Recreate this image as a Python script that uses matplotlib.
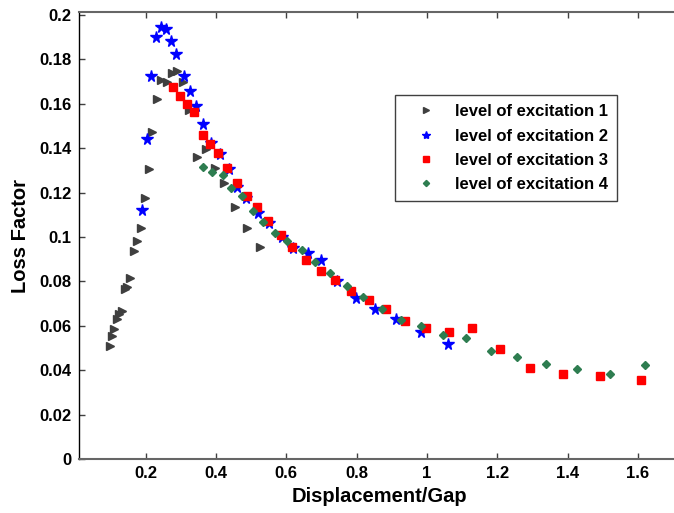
import numpy as np
from matplotlib import pyplot as plt

# level of excitation 1
x_1 = [0.098, 0.105, 0.111, 0.118, 0.124, 0.132, 0.142, 0.146, 0.156, 0.166,
       0.175, 0.187, 0.198, 0.209, 0.217, 0.232, 0.245, 0.261, 0.274, 0.290,
       0.307, 0.323, 0.347, 0.371, 0.397, 0.423, 0.454, 0.488, 0.525]
y_1 = [0.0509, 0.0554, 0.0584, 0.0631, 0.0652, 0.0667, 0.0767, 0.0773, 0.0817, 0.0937,
       0.0980, 0.1041, 0.1174, 0.1305, 0.1473, 0.1623, 0.1707, 0.1698, 0.1740, 0.1749,
       0.1698, 0.1572, 0.1362, 0.1396, 0.1312, 0.1245, 0.1135, 0.1041, 0.0955]

# level of excitation 2
x_2 = [0.189, 0.204, 0.215, 0.229, 0.243, 0.257, 0.272, 0.288, 0.308, 0.325,
       0.344, 0.364, 0.385, 0.411, 0.437, 0.459, 0.487, 0.520, 0.551, 0.587,
       0.620, 0.662, 0.700, 0.743, 0.799, 0.852, 0.913, 0.982, 1.059]
y_2 = [0.1122, 0.1440, 0.1725, 0.1902, 0.1947, 0.1937, 0.1882, 0.1824, 0.1725, 0.1658,
       0.1590, 0.1509, 0.1425, 0.1374, 0.1308, 0.1227, 0.1177, 0.1109, 0.1064, 0.1001,
       0.0949, 0.0927, 0.0896, 0.0802, 0.0724, 0.0674, 0.0631, 0.0573, 0.0517]

# level of excitation 3
x_3 = [0.278, 0.298, 0.317, 0.339, 0.362, 0.384, 0.406, 0.431, 0.459, 0.488,
       0.516, 0.548, 0.584, 0.616, 0.656, 0.698, 0.738, 0.784, 0.834, 0.884,
       0.938, 0.997, 1.063, 1.129, 1.208, 1.293, 1.386, 1.492, 1.608]
y_3 = [0.1676, 0.1637, 0.1598, 0.1562, 0.1458, 0.1418, 0.1377, 0.1309, 0.1243, 0.1186,
       0.1136, 0.1071, 0.1007, 0.0956, 0.0896, 0.0847, 0.0806, 0.0757, 0.0716, 0.0674,
       0.0623, 0.0592, 0.0573, 0.0589, 0.0494, 0.0409, 0.0383, 0.0374, 0.0355]

# level of excitation 4
x_4 = [0.362, 0.390, 0.419, 0.443, 0.475, 0.505, 0.534, 0.569, 0.603, 0.644,
       0.681, 0.724, 0.773, 0.819, 0.871, 0.926, 0.982, 1.045, 1.111, 1.182,
       1.257, 1.338, 1.427, 1.521, 1.621]
y_4 = [0.1314, 0.1293, 0.1279, 0.1219, 0.1185, 0.1118, 0.1069, 0.1017, 0.0981, 0.0941,
       0.0889, 0.0836, 0.0781, 0.0728, 0.0674, 0.0628, 0.0599, 0.0558, 0.0543, 0.0488,
       0.0458, 0.0428, 0.0404, 0.0383, 0.0423]

list_label = ['level of excitation 1', 'level of excitation 2',
              'level of excitation 3', 'level of excitation 4']
x_ticks = [0.2, 0.4, 0.6, 0.8, 1.0, 1.2, 1.4, 1.6]
x_tick_labels = ['0.2', '0.4', '0.6', '0.8', '1', '1.2', '1.4', '1.6']
y_ticks = [0, 0.02, 0.04, 0.06, 0.08, 0.1, 0.12, 0.14, 0.16, 0.18, 0.2]
y_tick_labels = ['0', '0.02', '0.04', '0.06', '0.08', '0.1', '0.12', '0.14', '0.16', '0.18', '0.2']

plt.rcParams['font.family'] = ['Liberation Sans', 'DejaVu Sans']

fig = plt.figure(figsize=(6.74, 5.13), dpi=100)
ax = fig.add_axes([78.5 / 674, 54 / 513, 602.5 / 674, 446.7 / 513])

ax.plot(x_1, y_1, linestyle='none', marker='>', ms=6, color='#3f3f3f', label=list_label[0])
ax.plot(x_2, y_2, linestyle='none', marker='*', ms=8.5, color='#0000ff', label=list_label[1])
ax.plot(x_3, y_3, linestyle='none', marker='s', ms=6, color='#ff0000', label=list_label[2])
ax.plot(x_4, y_4, linestyle='none', marker='D', ms=4.5, color='#2e7d50', label=list_label[3])

ax.set_xlim(0.0094, 1.7224)
ax.set_ylim(0, 0.2012)
ax.set_xticks(x_ticks)
ax.set_xticklabels(x_tick_labels, fontweight='bold')
ax.set_yticks(y_ticks)
ax.set_yticklabels(y_tick_labels, fontweight='bold')

ax.tick_params(direction='in', length=4, width=1, labelsize=12, top=True, right=False,
               color='#404040')
ax.tick_params(axis='y', pad=5)
ax.tick_params(axis='x', pad=5)
ax.spines['right'].set_visible(False)
ax.spines['left'].set_color('black')
ax.spines['left'].set_linewidth(1.0)
ax.spines['bottom'].set_color('#666666')
ax.spines['top'].set_color('#666666')
ax.spines['bottom'].set_linewidth(1.5)
ax.spines['top'].set_linewidth(1.5)

ax.set_xlabel('Displacement/Gap', fontsize=14.5, fontweight='bold', labelpad=4)
ax.set_ylabel('Loss Factor', fontsize=14.5, fontweight='bold', labelpad=7)

leg = ax.legend(loc='upper left', bbox_to_anchor=(316.5 / 602.5, 1 - 82.7 / 446.7),
                prop={'size': 12, 'weight': 'bold'}, frameon=True, fancybox=False,
                borderpad=0.55, handlelength=2.6, handletextpad=0.45,
                labelspacing=0.56, borderaxespad=0, markerscale=0.7)
leg.get_frame().set_edgecolor('#404040')
leg.get_frame().set_linewidth(1.0)
leg.get_frame().set_alpha(1)

fig.savefig('out.png', dpi=100)
